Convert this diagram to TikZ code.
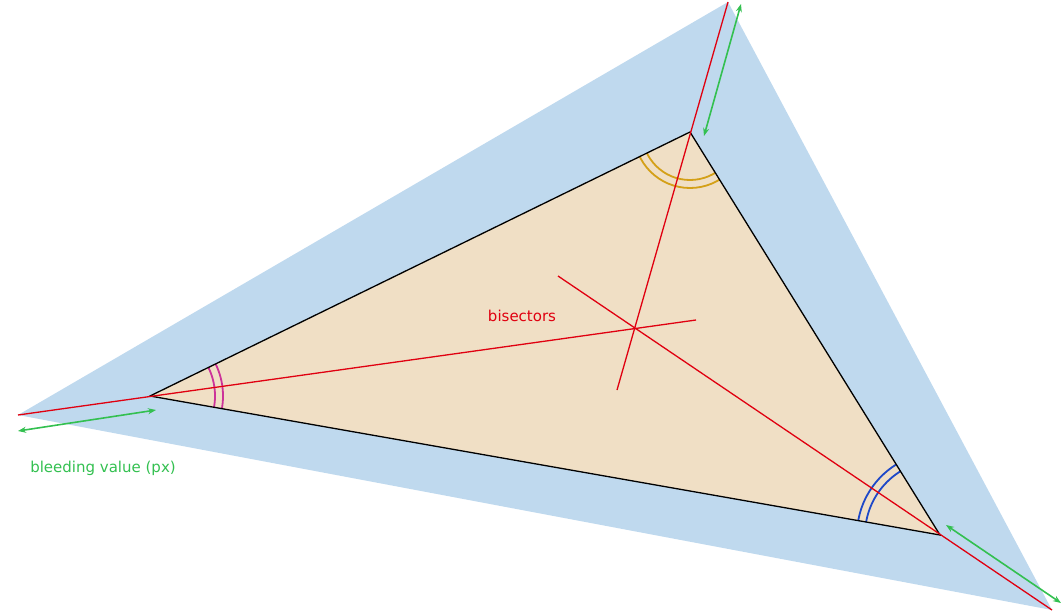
\documentclass[tikz,border=0pt]{standalone}
\usepackage{fontspec}
\setmainfont{DejaVu Sans}
\usetikzlibrary{arrows.meta}
\definecolor{bleed}{HTML}{BFD9EE}
\definecolor{inner}{HTML}{F0DFC5}
\definecolor{bisred}{HTML}{E00010}
\definecolor{grn}{HTML}{33C050}
\definecolor{mag}{HTML}{CC3399}
\definecolor{org}{HTML}{D4A017}
\definecolor{arcblue}{HTML}{1E48C8}
\tikzset{bis/.style={bisred,line width=1.3pt},
 garrow/.style={grn,line width=1.6pt,{Stealth[length=8pt]}-{Stealth[length=8pt]}},
 arcline/.style={line width=1.8pt}}
\begin{document}
\begin{tikzpicture}[x=1pt,y=-1pt]
\useasboundingbox (0,0) rectangle (1063,613);
\coordinate (A) at (150,396); \coordinate (B) at (690,132); \coordinate (C) at (940,535);
\coordinate (A2) at (18,415); \coordinate (B2) at (728,2); \coordinate (C2) at (1052,610);
\fill[bleed] (A2)--(B2)--(C2)--cycle;
\fill[inner] (A)--(B)--(C)--cycle;
\begin{scope}
\clip (A)--(B)--(C)--cycle;
\draw[mag,arcline] (A) circle (65) (A) circle (73);
\draw[org,arcline] (B) circle (48) (B) circle (56);
\draw[arcblue,arcline] (C) circle (75) (C) circle (83);
\end{scope}
\draw[line width=1.3pt] (A)--(B)--(C)--cycle;
\coordinate (a1) at (696,320); \coordinate (b1) at (617,390); \coordinate (c1) at (558,276);
\draw[bis] (A2)--(a1);
\draw[bis] (B2)--(b1);
\draw[bis] (C2)--(c1);
\coordinate (g1) at (18,431); \coordinate (g2) at (156,410);
\coordinate (g3) at (741,4); \coordinate (g4) at (704,136);
\coordinate (g5) at (946,525); \coordinate (g6) at (1061,603);
\draw[garrow] (g1)--(g2);
\draw[garrow] (g3)--(g4);
\draw[garrow] (g5)--(g6);
\node[bisred,font=\fontsize{15}{18}\selectfont] (lb) at (522,316) {bisectors};
\node[grn,font=\fontsize{15}{18}\selectfont] (lg) at (103,468) {bleeding value (px)};
\end{tikzpicture}
\end{document}
